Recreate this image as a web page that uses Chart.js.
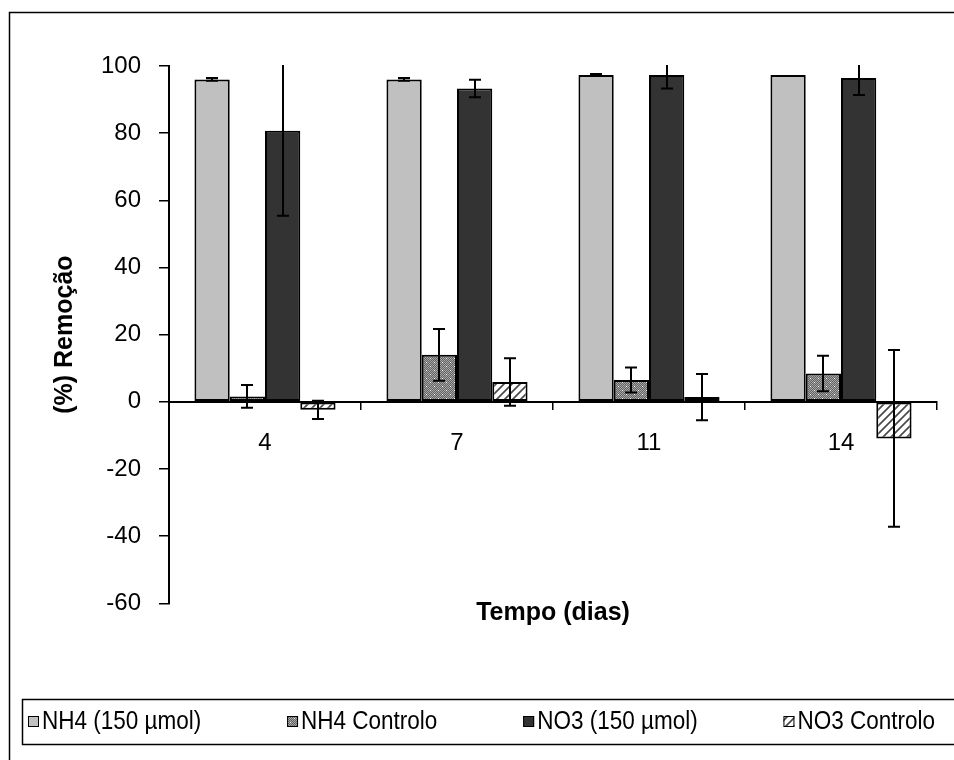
<!DOCTYPE html>
<html>
<head>
<meta charset="utf-8">
<script src="https://cdn.jsdelivr.net/npm/chart.js@4.4.0/dist/chart.umd.min.js"></script>
<style>
  html, body { margin: 0; padding: 0; background: #fff; }
  #wrap { width: 954px; height: 760px; position: relative; }
</style>
</head>
<body>
<div id="wrap"><canvas id="c" width="954" height="760"></canvas></div>
<script>
// Sampling days (x categories)
const days = ['4', '7', '11', '14'];

// Series names
const seriesNames = ['NH4 (150 µmol)', 'NH4 Controlo', 'NO3 (150 µmol)', 'NO3 Controlo'];

// Removal (%) per day
const nh4Values      = [96.0, 96.0, 97.3, 97.3];
const nh4CtrlValues  = [1.6, 14.0, 6.5, 8.4];
const no3Values      = [80.7, 93.3, 97.3, 96.4];
const no3CtrlValues  = [-2.4, 5.9, 1.4, -10.9];

// Standard deviations (±)
const nh4Errors      = [0.4, 0.4, 0.3, 0];
const nh4CtrlErrors  = [3.4, 7.7, 3.7, 5.3];
const no3Errors      = [25.3, 2.6, 4.0, 5.0];
const no3CtrlErrors  = [2.7, 7.1, 6.9, 26.3];

// Y axis range and tick step
const yMin = -60, yMax = 100, yStep = 20;

// ---- fill patterns ----
function dottedPattern() {
  const c = document.createElement('canvas');
  c.width = 8; c.height = 8;
  const g = c.getContext('2d');
  g.fillStyle = '#646464';
  g.fillRect(0, 0, 8, 8);
  g.fillStyle = '#a4a4a4';
  for (let y = 0; y < 8; y++) for (let x = 0; x < 8; x++) if ((x + y) % 2 === 0) g.fillRect(x, y, 1, 1);
  g.fillStyle = '#ffffff';
  g.fillRect(2, 2, 1, 1);
  g.fillRect(6, 6, 1, 1);
  return g.createPattern(c, 'repeat');
}
function hatchPattern() {
  const c = document.createElement('canvas');
  c.width = 8; c.height = 8;
  const g = c.getContext('2d');
  g.fillStyle = '#ffffff';
  g.fillRect(0, 0, 8, 8);
  g.strokeStyle = '#4a4a4a';
  g.lineWidth = 1.7;
  g.beginPath();
  g.moveTo(-1, 9); g.lineTo(9, -1);
  g.moveTo(-5, 5); g.lineTo(5, -5);
  g.moveTo(3, 13); g.lineTo(13, 3);
  g.stroke();
  return g.createPattern(c, 'repeat');
}

// ---- plugins ----
const pageFrame = {
  id: 'pageFrame',
  beforeDraw(chart) {
    const ctx = chart.ctx;
    ctx.save();
    ctx.fillStyle = '#fff';
    ctx.fillRect(0, 0, chart.width, chart.height);
    ctx.strokeStyle = '#000';
    ctx.lineWidth = 1.5;
    ctx.strokeRect(9.5, 12.5, 1000, 1000);
    ctx.restore();
  }
};

// Boxed legend spread across the bottom band, one entry per dataset
const boxedLegend = {
  id: 'boxedLegend',
  afterDraw(chart, args, opts) {
    const ctx = chart.ctx;
    const { top, bottom, frameLeft, itemsLeft, itemsRight, box, gap, font, squeeze } = opts;
    ctx.save();
    ctx.strokeStyle = '#000';
    ctx.lineWidth = 1.5;
    ctx.strokeRect(frameLeft + 0.5, top + 0.5, 1000, bottom - top);
    ctx.font = font;
    ctx.textBaseline = 'middle';
    ctx.textAlign = 'left';
    const items = chart.data.datasets.map(ds => {
      const tw = ctx.measureText(ds.label).width * squeeze;
      return { text: ds.label, fill: ds.backgroundColor, w: box + gap + tw };
    });
    const used = items.reduce((s, it) => s + it.w, 0);
    const spacing = (itemsRight - itemsLeft - used) / (items.length - 1);
    const cy = (top + bottom) / 2;
    let x = itemsLeft;
    items.forEach(it => {
      const by = Math.round(cy - box / 2);
      ctx.fillStyle = it.fill;
      ctx.fillRect(x, by, box, box);
      ctx.lineWidth = 1;
      ctx.strokeStyle = '#000';
      ctx.strokeRect(x + 0.5, by + 0.5, box - 1, box - 1);
      ctx.save();
      ctx.translate(x + box + gap, cy + 1);
      ctx.scale(squeeze, 1);
      ctx.fillStyle = '#000';
      ctx.fillText(it.text, 0, 0);
      ctx.restore();
      x += it.w + spacing;
    });
    ctx.restore();
  }
};

const errorBars = {
  id: 'errorBars',
  afterDatasetsDraw(chart) {
    const { ctx, chartArea: a, scales: { y } } = chart;
    ctx.save();
    ctx.beginPath();
    ctx.rect(a.left, a.top - 1, a.right - a.left, a.bottom - a.top + 2);
    ctx.clip();
    ctx.strokeStyle = '#000';
    ctx.lineWidth = 2;
    chart.data.datasets.forEach((ds, i) => {
      const meta = chart.getDatasetMeta(i);
      meta.data.forEach((bar, j) => {
        const err = ds.errorValues[j];
        if (!err) return;
        const v = ds.data[j];
        const yHi = y.getPixelForValue(v + err);
        const yLo = y.getPixelForValue(v - err);
        const x = Math.round(bar.x);
        const half = 6;
        ctx.beginPath();
        ctx.moveTo(x, yHi); ctx.lineTo(x, yLo);
        ctx.moveTo(x - half, yHi); ctx.lineTo(x + half, yHi);
        ctx.moveTo(x - half, yLo); ctx.lineTo(x + half, yLo);
        ctx.stroke();
      });
    });
    ctx.restore();
  }
};

const ctx = document.getElementById('c').getContext('2d');
const fills = ['#c0c0c0', dottedPattern(), '#333333', hatchPattern()];
const values = [nh4Values, nh4CtrlValues, no3Values, no3CtrlValues];
const errors = [nh4Errors, nh4CtrlErrors, no3Errors, no3CtrlErrors];

const tickFont = { family: "'Liberation Sans', Arial, sans-serif", size: 24 };
const boldFont = { family: "'Liberation Sans', Arial, sans-serif", size: 25, weight: 'bold' };

new Chart(ctx, {
  type: 'bar',
  data: {
    labels: days,
    datasets: seriesNames.map((name, i) => ({
      label: name,
      data: values[i],
      errorValues: errors[i],
      backgroundColor: fills[i],
      borderColor: '#000',
      borderWidth: 2,
      borderSkipped: false,
      xAxisID: 'x',
      categoryPercentage: 0.735,
      barPercentage: 1.0
    }))
  },
  options: {
    responsive: false,
    animation: false,
    devicePixelRatio: 1,
    layout: { padding: { left: 10, right: 17, top: 66, bottom: 61 } },
    plugins: {
      tooltip: { enabled: false },
      legend: { display: false },
      boxedLegend: {
        top: 699, bottom: 744, frameLeft: 22,
        itemsLeft: 28, itemsRight: 935,
        box: 11, gap: 3, squeeze: 0.9,
        font: "25px 'Liberation Sans', Arial, sans-serif"
      }
    },
    scales: {
      x: {
        type: 'category',
        position: { y: 0 },
        offset: true,
        border: { display: true, color: '#000', width: 2 },
        grid: { offset: true, drawOnChartArea: false, drawTicks: true, tickLength: 7, color: '#000', lineWidth: 1.5 },
        ticks: { font: tickFont, color: '#000', padding: 20, maxRotation: 0 }
      },
      x2: {
        type: 'category',
        position: 'bottom',
        display: true,
        grid: { display: false, drawTicks: false },
        border: { display: false },
        ticks: { display: false },
        title: { display: true, text: 'Tempo (dias)', color: '#000', font: Object.assign({ lineHeight: 0.75 }, boldFont), padding: { top: 0, bottom: 77 } }
      },
      y: {
        min: yMin,
        max: yMax,
        border: { display: true, color: '#000', width: 2 },
        grid: { drawOnChartArea: false, drawTicks: true, tickLength: 10, color: '#000', lineWidth: 1.5 },
        ticks: { stepSize: yStep, font: tickFont, color: '#000', padding: 18 },
        title: { display: true, text: '(%) Remoção', color: '#000', font: boldFont, padding: { top: 40, bottom: 0 } },
        afterFit(scale) { scale.width = 159; }
      }
    }
  },
  plugins: [pageFrame, errorBars, boxedLegend]
});
</script>
</body>
</html>
